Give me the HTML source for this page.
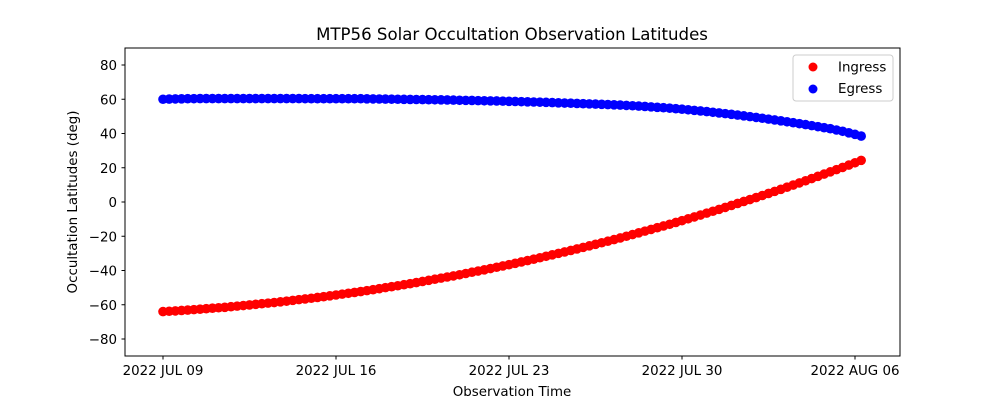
<!DOCTYPE html>
<html><head><meta charset="utf-8"><style>
body{margin:0;background:#fff}
svg text{font-family:"DejaVu Sans","Liberation Sans",sans-serif;fill:#000}
</style></head><body>
<svg id="chart" width="1000" height="400" xmlns="http://www.w3.org/2000/svg">
<rect width="1000" height="400" fill="#fff"/>
<text x="512" y="40" font-size="16.6" text-anchor="middle">MTP56 Solar Occultation Observation Latitudes</text>
<g id="marks"></g>
<g id="axes"></g>
<rect x="125" y="48" width="775" height="308" fill="none" stroke="#000" stroke-width="1"/>
<text x="512" y="396" font-size="13.4" text-anchor="middle">Observation Time</text>
<text transform="translate(77,202) rotate(-90)" font-size="13.4" text-anchor="middle">Occultation Latitudes (deg)</text>
<g>
<rect x="793" y="55" width="100" height="46" rx="3" fill="#fff" stroke="#ccc"/>
<circle cx="813" cy="67" r="4.5" fill="red"/>
<text x="838" y="71.5" font-size="13.4">Ingress</text>
<circle cx="813" cy="89" r="4.5" fill="blue"/>
<text x="838" y="93" font-size="13.4">Egress</text>
</g>
</svg>
<script>
const startDay = 0;
const dayStep = 0.25;
const ingress = [-64.0,-63.8,-63.6,-63.35,-63.1,-62.85,-62.6,-62.3,-62.0,-61.75,-61.5,-61.15,-60.8,-60.45,-60.1,-59.75,-59.4,-59.05,-58.7,-58.3,-57.9,-57.45,-57.0,-56.6,-56.2,-55.75,-55.3,-54.8,-54.3,-53.8,-53.3,-52.8,-52.3,-51.75,-51.2,-50.6,-50.0,-49.45,-48.9,-48.3,-47.7,-47.05,-46.4,-45.75,-45.1,-44.45,-43.8,-43.15,-42.5,-41.75,-41.0,-40.3,-39.6,-38.85,-38.1,-37.35,-36.6,-35.8,-35.0,-34.2,-33.4,-32.55,-31.7,-30.85,-30.0,-29.15,-28.3,-27.4,-26.5,-25.6,-24.7,-23.8,-22.9,-21.95,-21.0,-20.0,-19.0,-18.0,-17.0,-16.0,-15.0,-14.0,-13.0,-11.95,-10.9,-9.8,-8.7,-7.6,-6.5,-5.4,-4.3,-3.15,-2.0,-0.85,0.3,1.45,2.6,3.8,5.0,6.2,7.4,8.65,9.9,11.15,12.4,13.7,15.0,16.3,17.6,18.9,20.2,21.55,22.9,24.3];
const egress = [60.0,60.1,60.2,60.25,60.3,60.35,60.4,60.4,60.4,60.4,60.4,60.4,60.4,60.4,60.4,60.4,60.4,60.4,60.4,60.4,60.4,60.4,60.4,60.35,60.3,60.3,60.3,60.3,60.3,60.3,60.3,60.3,60.3,60.25,60.2,60.15,60.1,60.05,60.0,59.95,59.9,59.85,59.8,59.75,59.7,59.65,59.6,59.5,59.4,59.35,59.3,59.2,59.1,59.05,59.0,58.9,58.8,58.7,58.6,58.5,58.4,58.3,58.2,58.05,57.9,57.8,57.7,57.55,57.4,57.3,57.2,57.05,56.9,56.75,56.6,56.4,56.2,56.0,55.8,55.55,55.3,55.05,54.8,54.5,54.2,53.85,53.5,53.15,52.8,52.4,52.0,51.6,51.2,50.75,50.3,49.85,49.4,48.9,48.4,47.9,47.4,46.85,46.3,45.75,45.2,44.6,44.0,43.4,42.8,42.05,41.3,40.4,39.5,38.5];
const xTickDays = [0,7,14,21,28];
const xTickLabels = ["2022 JUL 09","2022 JUL 16","2022 JUL 23","2022 JUL 30","2022 AUG 06"];
const yTicks = [-80,-60,-40,-20,0,20,40,60,80];

const NS='http://www.w3.org/2000/svg';
const xS = d => 163 + d*(692/28);
const yS = v => 202 - v*(274/160);
const marks=document.getElementById('marks'), axes=document.getElementById('axes');
function mk(tag,attrs,parent){const e=document.createElementNS(NS,tag);for(const k in attrs)e.setAttribute(k,attrs[k]);parent.appendChild(e);return e;}
ingress.forEach((v,i)=>{
  const c=mk('circle',{cx:xS(startDay+i*dayStep),cy:yS(v),r:4.8,fill:'red'},marks);
  
  
});
egress.forEach((v,i)=>{
  const c=mk('circle',{cx:xS(startDay+i*dayStep),cy:yS(v),r:4.8,fill:'blue'},marks);
  
  
});
xTickDays.forEach((d,i)=>{
  const x=xS(d);
  const l=mk('line',{x1:x,x2:x,y1:356,y2:359.5,stroke:'#000'},axes);
  
  
  const t=mk('text',{x:x,y:375,'font-size':13.4,'text-anchor':'middle'},axes);
  t.textContent=xTickLabels[i];
  
  
});
yTicks.forEach(v=>{
  const y=yS(v);
  const l=mk('line',{x1:121.5,x2:125,y1:y,y2:y,stroke:'#000'},axes);
  
  
  const t=mk('text',{x:117,y:y+5,'font-size':13.4,'text-anchor':'end'},axes);
  t.textContent=v<0?'\u2212'+Math.abs(v):String(v);
  
  
});
</script>
</body></html>
